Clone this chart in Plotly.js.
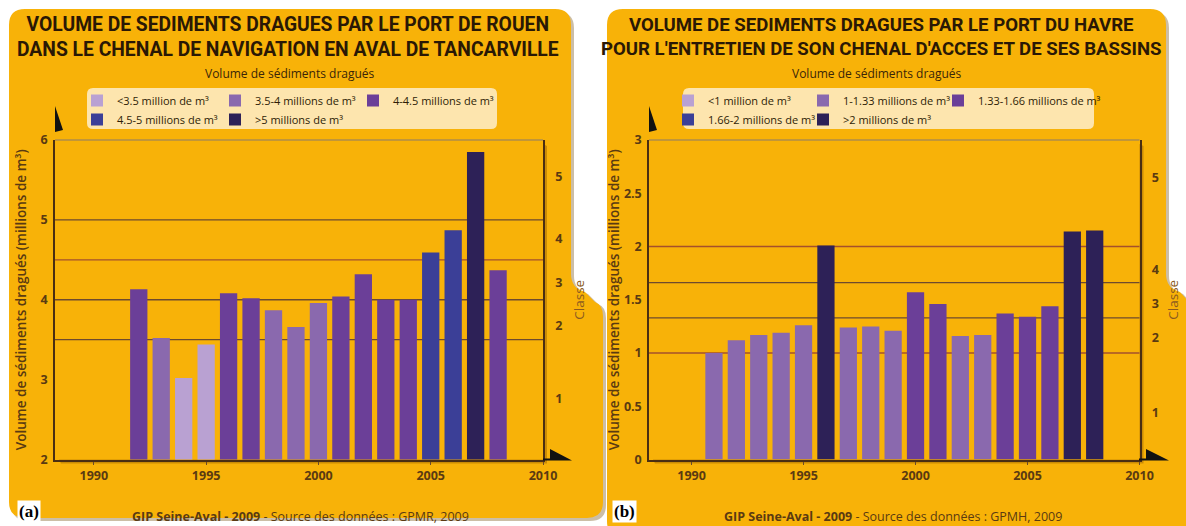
<!DOCTYPE html>
<html><head><meta charset="utf-8">
<script src="https://cdn.plot.ly/plotly-3.0.1.min.js"></script>
<style>html,body{margin:0;padding:0;background:#fff}#chart{width:1186px;height:526px}</style>
</head><body><div id="chart"></div>
<script>
const W = 1186, H = 526;

// ---------- Panel (a) : Port de Rouen ----------
const yearsA = [1992,1993,1994,1995,1996,1997,1998,1999,2000,2001,2002,2003,2004,2005,2006,2007,2008];
const valuesA = [4.13,3.52,3.02,3.44,4.08,4.02,3.87,3.66,3.96,4.04,4.32,4.00,4.00,4.59,4.87,5.85,4.37];
const boundsA = [3.5,4,4.5,5];
const classNamesA = ['&lt;3.5 million de m³','3.5-4 millions de m³','4-4.5 millions de m³','4.5-5 millions de m³','&gt;5 millions de m³'];
const yTicksA = [2,3,4,5,6];
const classTickPosA = [2.76,3.67,4.22,4.77,5.54];

// ---------- Panel (b) : Port du Havre ----------
const yearsB = [1991,1992,1993,1994,1995,1996,1997,1998,1999,2000,2001,2002,2003,2004,2005,2006,2007,2008];
const valuesB = [1.00,1.12,1.17,1.19,1.26,2.01,1.24,1.25,1.21,1.57,1.46,1.16,1.17,1.37,1.34,1.44,2.14,2.15];
const boundsB = [1,1.33,1.66,2];
const classNamesB = ['&lt;1 million de m³','1-1.33 millions de m³','1.33-1.66 millions de m³','1.66-2 millions de m³','&gt;2 millions de m³'];
const yTicksB = [0,0.5,1,1.5,2,2.5,3];
const classTickPosB = [0.44,1.14,1.46,1.78,2.65];

const classTickText = ['1','2','3','4','5'];
const xTicks = [1990,1995,2000,2005,2010];
const classColors = ['#b9a1d2','#8a69ae','#6b3f98','#3b3f97','#2d2157'];
const legendGroups = ['g1','g2','g3','g1','g2'];

// ---------- helpers ----------
const px = x => x / W;
const py = y => 1 - y / H;
function pathPx(cmds){
  return cmds.map(c => {
    if (c === 'Z') return 'Z';
    const [k, ...v] = c;
    const out = [];
    for (let i = 0; i < v.length; i += 2) out.push(px(v[i]).toFixed(5) + ',' + py(v[i+1]).toFixed(5));
    return k + out.join(' ');
  }).join(' ');
}
function roundRect(x0,y0,x1,y1,r){
  return pathPx([['M',x0+r,y0],['L',x1-r,y0],['Q',x1,y0,x1,y0+r],['L',x1,y1-r],['Q',x1,y1,x1-r,y1],
    ['L',x0+r,y1],['Q',x0,y1,x0,y1-r],['L',x0,y0+r],['Q',x0,y0,x0+r,y0],'Z']);
}
function card(x0,y0,x1,yNotch,x2,y1,r){
  return pathPx([['M',x0+r,y0],['L',x1-r,y0],['Q',x1,y0,x1,y0+r],['L',x1,yNotch-14],
    ['Q',x1,yNotch,x1+14,yNotch+4],['L',x2-8,yNotch+14],['Q',x2,yNotch+17,x2,yNotch+28],
    ['L',x2,y1-r],['Q',x2,y1,x2-r,y1],['L',x0+r,y1],['Q',x0,y1,x0,y1-r],['L',x0,y0+r],['Q',x0,y0,x0+r,y0],'Z']);
}
const classify = (v, bounds) => bounds.filter(b => v >= b).length;

function classTraces(years, values, bounds, names, xa, ya, leg){
  const tr = names.map((nm, k) => {
    const xs = [], ys = [];
    years.forEach((yr, i) => { if (classify(values[i], bounds) === k) { xs.push(yr); ys.push(values[i]); } });
    if (!xs.length) { xs.push(years[0]); ys.push(null); }
    return {type:'bar', x:xs, y:ys, name:nm, legend:leg, legendgroup:leg+legendGroups[k],
      marker:{color:classColors[k], line:{width:0}}, width:0.77, xaxis:xa, yaxis:ya,
      hovertemplate:'%{x}: %{y}<extra></extra>'};
  });
  // blank spacer entry so the third legend column is not clipped
  tr.push({type:'bar', x:[years[0]], y:[null], name:' ', legend:leg, legendgroup:leg+'spacer',
    marker:{color:'rgba(0,0,0,0)'}, xaxis:xa, yaxis:ya, hoverinfo:'skip'});
  return tr;
}

const brown = '#5a3a12';
const fontMain = 'Open Sans, Noto Sans, sans-serif';
const tickFont = {family:fontMain, size:12.5, color:brown, weight:700};
const titleFamily = 'Roboto, Liberation Sans, sans-serif';

// gradient background image for plot areas
function gradientURL(){
  const c = document.createElement('canvas'); c.width = 300; c.height = 200;
  const g = c.getContext('2d');
  const lg = g.createLinearGradient(0, 200, 300, 40);
  lg.addColorStop(0, '#ffffff');
  lg.addColorStop(0.45, '#fde5b8');
  lg.addColorStop(1, '#fcc55c');
  g.fillStyle = lg; g.fillRect(0,0,300,200);
  return c.toDataURL('image/png');
}
const grad = gradientURL();

const plotA = {l:55, r:543, t:140, b:459.5};
const plotB = {l:649, r:1139.5, t:140, b:459.5};

const data = [
  ...classTraces(yearsA, valuesA, boundsA, classNamesA, 'x', 'y', 'legend'),
  ...classTraces(yearsB, valuesB, boundsB, classNamesB, 'x2', 'y3', 'legend2'),
  {type:'scatter', x:[2000], y:[null], xaxis:'x', yaxis:'y2', showlegend:false, hoverinfo:'skip'},
  {type:'scatter', x:[2000], y:[null], xaxis:'x2', yaxis:'y4', showlegend:false, hoverinfo:'skip'}
];

function xAxis(dom, range, anchor){
  return {domain:dom, range:range, anchor:anchor, tickvals:xTicks, ticks:'outside', ticklen:3, tickcolor:'#6b4a2a',
    tickfont:tickFont, showline:true, linecolor:'#4a2e12', linewidth:2, showgrid:false, zeroline:false, fixedrange:true};
}
function yAxis(dom, range, anchor, tickvals, standoff){
  return {domain:dom, range:range, anchor:anchor, tickvals:tickvals, ticks:'', tickfont:tickFont, ticklabelstandoff:3,
    showline:true, linecolor:'#4a2e12', linewidth:1.5, showgrid:false, zeroline:false, fixedrange:true,
    title:{text:'Volume de sédiments dragués (millions de m³)', font:{family:fontMain, size:13.5, color:brown, weight:600}, standoff:standoff}};
}
function yClass(range, anchor, over, tickvals, standoff){
  return {overlaying:over, side:'right', anchor:anchor, range:range, tickvals:tickvals, ticktext:classTickText,
    tickfont:tickFont, ticks:'', ticklabelstandoff:8, showgrid:false, zeroline:false, showline:true,
    linecolor:'#4a2e12', linewidth:1.5, fixedrange:true,
    title:{text:'Classe', font:{family:fontMain, size:13.5, color:'#8a5a20'}, standoff:standoff}};
}
const yDom = [py(459.5), py(140)];

const shapes = [
  // cards
  {type:'path', xref:'paper', yref:'paper', path:card(12,12,574,290,606,521,16), fillcolor:'rgba(110,70,0,0.35)', line:{width:0}, layer:'below'},
  {type:'path', xref:'paper', yref:'paper', path:card(9,9,571,288,603,518,16), fillcolor:'#f8b208', line:{width:0}, layer:'below'},
  {type:'path', xref:'paper', yref:'paper', path:card(610,12,1169,290,1200,540,16), fillcolor:'rgba(110,70,0,0.35)', line:{width:0}, layer:'below'},
  {type:'path', xref:'paper', yref:'paper', path:card(607,9,1166,288,1197,537,16), fillcolor:'#f8b208', line:{width:0}, layer:'below'},
  // legend boxes
  {type:'path', xref:'paper', yref:'paper', path:roundRect(87,88,497,129,6), fillcolor:'#fde5ae', line:{width:0}, layer:'below'},
  {type:'path', xref:'paper', yref:'paper', path:roundRect(683,88,1094,129,6), fillcolor:'#fde5ae', line:{width:0}, layer:'below'},
  // plot shadows
  {type:'path', xref:'paper', yref:'paper', path:pathPx([['M',plotA.r,plotA.t+4],['L',plotA.r+4,plotA.t+6],['L',plotA.r+4,plotA.b+4],['L',plotA.l+6,plotA.b+4],['L',plotA.l+4,plotA.b],['L',plotA.r,plotA.b],'Z']), fillcolor:'rgba(120,70,0,0.35)', line:{width:0}, layer:'below'},
  {type:'path', xref:'paper', yref:'paper', path:pathPx([['M',plotB.r,plotB.t+4],['L',plotB.r+4,plotB.t+6],['L',plotB.r+4,plotB.b+4],['L',plotB.l+6,plotB.b+4],['L',plotB.l+4,plotB.b],['L',plotB.r,plotB.b],'Z']), fillcolor:'rgba(120,70,0,0.35)', line:{width:0}, layer:'below'},
  // axis arrows
  {type:'path', xref:'paper', yref:'paper', path:pathPx([['M',55,106],['L',55,132],['L',63,130],'Z']), fillcolor:'#111', line:{width:0}},
  {type:'path', xref:'paper', yref:'paper', path:pathPx([['M',543,458.5],['L',550,458.5],['L',550,449],['L',572,460.5],['L',543,460.5],'Z']), fillcolor:'#111', line:{width:0}},
  {type:'path', xref:'paper', yref:'paper', path:pathPx([['M',649,106],['L',649,132],['L',657,130],'Z']), fillcolor:'#111', line:{width:0}},
  {type:'path', xref:'paper', yref:'paper', path:pathPx([['M',1139,458.5],['L',1146,458.5],['L',1146,449],['L',1169,460.5],['L',1139,460.5],'Z']), fillcolor:'#111', line:{width:0}},
];
// class boundary lines (drawn from the class bounds, via the axes)
const lineColorsA = ['#6e4a2e','#6e4a2e','#a4502c','#6e4a2e'];
const lineColorsB = ['#a4502c','#6e4a2e','#6e4a2e','#a4502c'];
boundsA.forEach((b,i) => shapes.push({type:'line', xref:'x domain', yref:'y', x0:0, x1:1, y0:b, y1:b, line:{color:lineColorsA[i], width:1.3}, layer:'below'}));
boundsB.forEach((b,i) => shapes.push({type:'line', xref:'x2 domain', yref:'y3', x0:0, x1:1, y0:b, y1:b, line:{color:lineColorsB[i], width:1.3}, layer:'below'}));
shapes.push({type:'line', xref:'x domain', yref:'y domain', x0:0, x1:1, y0:1, y1:1, line:{color:'#8a7a6a', width:1}});
shapes.push({type:'line', xref:'x2 domain', yref:'y3 domain', x0:0, x1:1, y0:1, y1:1, line:{color:'#8a7a6a', width:1}});

const legFont = {family:fontMain, size:11, color:'#2e1d06'};
const annFont = {family:fontMain, size:12, color:'#3a2508'};

const annotations = [
  {xref:'paper', yref:'paper', x:px(288), y:py(37), text:'VOLUME DE SEDIMENTS DRAGUES PAR LE PORT DE ROUEN<br>DANS LE CHENAL DE NAVIGATION EN AVAL DE TANCARVILLE', showarrow:false, font:{family:titleFamily, size:19.3, color:'#2a1805', weight:700}, xanchor:'center', yanchor:'middle'},
  {xref:'paper', yref:'paper', x:px(881), y:py(37), text:'VOLUME DE SEDIMENTS DRAGUES PAR LE PORT DU HAVRE<br>POUR L\'ENTRETIEN DE SON CHENAL D\'ACCES ET DE SES BASSINS', showarrow:false, font:{family:titleFamily, size:18.6, color:'#2a1805', weight:700}, xanchor:'center', yanchor:'middle'},
  {xref:'paper', yref:'paper', x:px(290), y:py(74), text:'Volume de sédiments dragués', showarrow:false, font:annFont, xanchor:'center', yanchor:'middle'},
  {xref:'paper', yref:'paper', x:px(877), y:py(74), text:'Volume de sédiments dragués', showarrow:false, font:annFont, xanchor:'center', yanchor:'middle'},
  {xref:'paper', yref:'paper', x:px(300), y:py(516), text:'<b>GIP Seine-Aval - 2009</b> - Source des données : GPMR, 2009', showarrow:false, font:{family:fontMain, size:12.5, color:'#5a3a12'}, xanchor:'center', yanchor:'middle'},
  {xref:'paper', yref:'paper', x:px(893), y:py(516), text:'<b>GIP Seine-Aval - 2009</b> - Source des données : GPMH, 2009', showarrow:false, font:{family:fontMain, size:12.5, color:'#5a3a12'}, xanchor:'center', yanchor:'middle'},
  {xref:'paper', yref:'paper', x:px(29), y:py(511), text:'<b>(a)</b>', showarrow:false, font:{family:'Liberation Serif, Times New Roman, serif', size:17, color:'#000'}, bgcolor:'#ffffff', borderpad:1, xanchor:'center', yanchor:'middle'},
  {xref:'paper', yref:'paper', x:px(624), y:py(511), text:'<b>(b)</b>', showarrow:false, font:{family:'Liberation Serif, Times New Roman, serif', size:17, color:'#000'}, bgcolor:'#ffffff', borderpad:1, xanchor:'center', yanchor:'middle'}
];

const layout = {
  width:W, height:H, margin:{l:0,r:0,t:0,b:0, autoexpand:false}, paper_bgcolor:'#ffffff', plot_bgcolor:'rgba(0,0,0,0)',
  barmode:'overlay', showlegend:true, font:{family:fontMain, color:brown},
  xaxis: xAxis([px(plotA.l), px(plotA.r)], [1988.27, 2010], 'y'),
  yaxis: yAxis(yDom, [2,6], 'x', yTicksA, 11),
  yaxis2: yClass([2,6], 'x', 'y', classTickPosA, 13),
  xaxis2: xAxis([px(plotB.l), px(plotB.r)], [1988.1, 2010], 'y3'),
  yaxis3: yAxis(yDom, [0,3], 'x2', yTicksB, 1),
  yaxis4: yClass([0,3], 'x2', 'y3', classTickPosB, 11),
  legend: {x:px(77), y:py(86), xanchor:'left', yanchor:'top', orientation:'h', traceorder:'grouped', entrywidth:93, entrywidthmode:'pixels', bgcolor:'rgba(0,0,0,0)', font:legFont, itemwidth:30, itemclick:false, itemdoubleclick:false},
  legend2: {x:px(668), y:py(86), xanchor:'left', yanchor:'top', orientation:'h', traceorder:'grouped', entrywidth:90, entrywidthmode:'pixels', bgcolor:'rgba(0,0,0,0)', font:legFont, itemwidth:30, itemclick:false, itemdoubleclick:false},
  images: [
    {source:grad, xref:'paper', yref:'paper', x:px(plotA.l), y:py(plotA.t), sizex:(plotA.r-plotA.l)/W, sizey:(plotA.b-plotA.t)/H, sizing:'stretch', xanchor:'left', yanchor:'top', layer:'below'},
    {source:grad, xref:'paper', yref:'paper', x:px(plotB.l), y:py(plotB.t), sizex:(plotB.r-plotB.l)/W, sizey:(plotB.b-plotB.t)/H, sizing:'stretch', xanchor:'left', yanchor:'top', layer:'below'}
  ],
  shapes: shapes,
  annotations: annotations
};

Plotly.newPlot('chart', data, layout, {displayModeBar:false});
</script></body></html>
